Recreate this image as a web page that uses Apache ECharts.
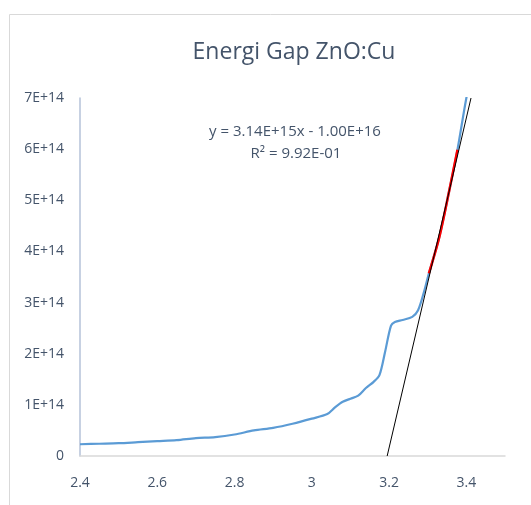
<!DOCTYPE html>
<html>
  <head>
    <title></title>
    <meta charset="UTF-8" />
    <script src="https://cdn.jsdelivr.net/npm/echarts@6/dist/echarts.min.js"></script>
  </head>
  <body style="margin:0">
    <div id="main"></div>
    <script>
      const width = 531;
      const height = 505;
      const main = document.getElementById('main');
      main.style.width = `${width}px`;
      main.style.height = `${height}px`;

      // photon energy (eV) and (alpha*h*nu)^2
      const energy = [2.40, 2.45, 2.50, 2.55, 2.60, 2.65, 2.70, 2.75, 2.80, 2.85, 2.90, 2.95, 3.00, 3.04, 3.06, 3.08, 3.10, 3.12, 3.14, 3.16, 3.175, 3.19, 3.205, 3.215, 3.235, 3.26, 3.275, 3.29, 3.303, 3.33, 3.356, 3.377, 3.40, 3.41];
      const absorb = [0.23, 0.24, 0.25, 0.27, 0.29, 0.31, 0.35, 0.37, 0.42, 0.50, 0.55, 0.63, 0.73, 0.82, 0.95, 1.06, 1.12, 1.18, 1.33, 1.45, 1.58, 2.05, 2.55, 2.62, 2.66, 2.72, 2.85, 3.20, 3.57, 4.28, 5.20, 5.99, 7.0, 7.3].map(v => v * 1e14);

      // range used for the linear fit (red)
      const fitFrom = 3.303;
      const fitTo = 3.377;

      // trendline as drawn: from the x-axis up to the top of the plot
      const trendX = [3.195, 3.412];
      const trendY = [0, 7e14];
      const yMax = 7e14;

      const xTicks = ['2.4', '2.6', '2.8', '3', '3.2', '3.4'];

      const curve = energy.map((e, i) => [e, absorb[i]]);
      const fitPart = curve.filter(p => p[0] >= fitFrom && p[0] <= fitTo);
      const trend = trendX.map((x, i) => [x, trendY[i]]);

      const textColor = '#44546a';
      const font = 'Open Sans';

      const myChart = echarts.init(main);
      const option = {
        animation: false,
        title: {
          text: 'Energi Gap ZnO:Cu',
          left: 289,
          top: 36,
          textAlign: 'center',
          textStyle: { fontFamily: font, fontWeight: 'normal', fontSize: 23, color: textColor }
        },
        graphic: [
          {
            type: 'rect',
            left: 7, top: 12,
            shape: { width: 600, height: 600 },
            style: { fill: 'none', stroke: '#d9d9d9', lineWidth: 1 },
            silent: true
          },
          {
            type: 'text',
            x: 295, y: 124,
            style: { text: 'y = 3.14E+15x - 1.00E+16', font: `15px "${font}"`, fill: textColor, textAlign: 'center' }
          },
          {
            type: 'text',
            x: 296, y: 146,
            style: { text: 'R² = 9.92E-01', font: `15px "${font}"`, fill: textColor, textAlign: 'center' }
          }
        ],
        grid: { left: 80, right: 26, top: 98, bottom: 49 },
        xAxis: {
          type: 'value',
          min: 2.4,
          max: 3.5,
          interval: 0.2,
          splitLine: { show: false },
          axisTick: { show: false },
          axisLine: { lineStyle: { color: '#d9d9d9', width: 1.5 } },
          axisLabel: {
            showMaxLabel: false,
            margin: 20,
            fontFamily: font,
            fontSize: 14,
            color: textColor,
            formatter: v => xTicks.find(t => Math.abs(+t - v) < 1e-6) || ''
          }
        },
        yAxis: {
          type: 'value',
          min: 0,
          max: yMax,
          interval: 1e14,
          splitLine: { show: false },
          axisTick: { show: false },
          axisLine: { show: true, lineStyle: { color: '#b4c2d9', width: 1.5 } },
          axisLabel: {
            margin: 16,
            fontFamily: font,
            fontSize: 14,
            color: textColor,
            formatter: v => (v === 0 ? '0' : `${Math.round(v / 1e14)}E+14`)
          }
        },
        series: [
          {
            type: 'line',
            data: curve,
            smooth: 0.3,
            showSymbol: false,
            clip: true,
            lineStyle: { color: '#5b9bd5', width: 2.2 }
          },
          {
            type: 'line',
            data: fitPart,
            smooth: 0.3,
            showSymbol: false,
            lineStyle: { color: '#ff0000', width: 2.5 }
          },
          {
            type: 'line',
            data: trend,
            showSymbol: false,
            lineStyle: { color: '#000000', width: 1 }
          }
        ]
      };
      myChart.setOption(option);
    </script>
  </body>
</html>
